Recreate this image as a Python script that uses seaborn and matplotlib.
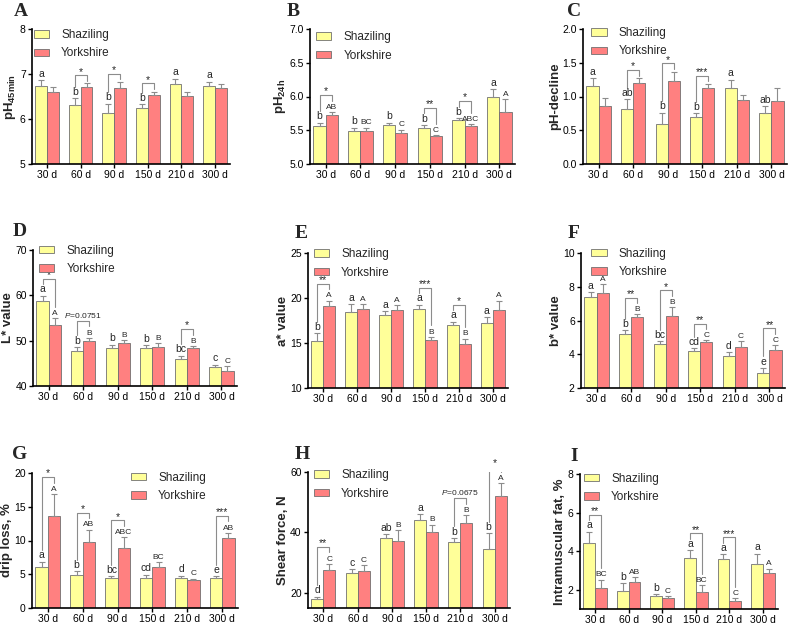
import pandas as pd
import seaborn as sns
import matplotlib.pyplot as plt

sns.set_style('ticks')
plt.rcParams['font.family'] = ['Liberation Sans', 'DejaVu Sans']
plt.rcParams['mathtext.fontset'] = 'custom'
plt.rcParams['mathtext.rm'] = 'Liberation Sans'
plt.rcParams['mathtext.bf'] = 'Liberation Sans:bold'
plt.rcParams['mathtext.it'] = 'Liberation Sans:italic'

days = ['30 d', '60 d', '90 d', '150 d', '210 d', '300 d']
breeds = ['Shaziling', 'Yorkshire']
colors = ['#FFFF99', '#FF8080']

# A pH45min
ph45_s = [6.74, 6.31, 6.14, 6.25, 6.77, 6.74]
ph45_s_sem = [0.12, 0.15, 0.20, 0.08, 0.13, 0.09]
ph45_y = [6.61, 6.71, 6.70, 6.53, 6.51, 6.70]
ph45_y_sem = [0.10, 0.08, 0.13, 0.08, 0.08, 0.07]
ph45_s_let = ['a', 'b', 'b', 'b', 'a', 'a']
ph45_y_let = ['', '', '', '', '', '']
ph45_sig = [(1, '*'), (2, '*'), (3, '*')]

# B pH24h
ph24_s = [5.57, 5.49, 5.58, 5.54, 5.65, 5.99]
ph24_s_sem = [0.04, 0.05, 0.03, 0.04, 0.03, 0.12]
ph24_y = [5.72, 5.49, 5.46, 5.41, 5.56, 5.77]
ph24_y_sem = [0.05, 0.05, 0.05, 0.02, 0.03, 0.19]
ph24_s_let = ['b', 'b', 'b', 'b', 'b', 'a']
ph24_y_let = ['AB', 'BC', 'C', 'C', 'ABC', 'A']
ph24_sig = [(0, '*'), (3, '**'), (4, '*')]

# C pH-decline
phd_s = [1.15, 0.81, 0.59, 0.69, 1.12, 0.76]
phd_s_sem = [0.12, 0.15, 0.17, 0.06, 0.13, 0.10]
phd_y = [0.86, 1.20, 1.23, 1.12, 0.95, 0.93]
phd_y_sem = [0.12, 0.07, 0.14, 0.07, 0.07, 0.19]
phd_s_let = ['a', 'ab', 'b', 'b', 'a', 'ab']
phd_y_let = ['', '', '', '', '', '']
phd_sig = [(1, '*'), (2, '*'), (3, '***')]

# D L*
l_s = [58.8, 47.8, 48.3, 48.3, 46.0, 44.2]
l_s_sem = [1.1, 0.8, 0.8, 0.7, 0.7, 0.5]
l_y = [53.4, 49.9, 49.4, 48.5, 48.3, 43.3]
l_y_sem = [1.5, 0.7, 0.7, 1.0, 0.5, 1.1]
l_s_let = ['a', 'b', 'b', 'b', 'bc', 'c']
l_y_let = ['A', 'B', 'B', 'B', 'B', 'C']
l_sig = [(0, '*'), (1, 'P=0.0751'), (4, '*')]

# E a*
a_s = [15.26, 18.48, 18.07, 18.8, 17.0, 17.26]
a_s_sem = [0.8, 0.8, 0.45, 0.45, 0.35, 0.6]
a_y = [19.07, 18.81, 18.7, 15.33, 14.9, 18.7]
a_y_sem = [0.65, 0.5, 0.5, 0.35, 0.6, 1.0]
a_s_let = ['b', 'a', 'a', 'a', 'a', 'a']
a_y_let = ['A', 'A', 'A', 'B', 'B', 'A']
a_sig = [(0, '**'), (3, '***'), (4, '*')]

# F b*
b_s = [7.37, 5.18, 4.6, 4.17, 3.88, 2.91]
b_s_sem = [0.32, 0.23, 0.16, 0.2, 0.25, 0.28]
b_y = [7.65, 6.23, 6.29, 4.72, 4.43, 4.27]
b_y_sem = [0.5, 0.13, 0.49, 0.1, 0.33, 0.26]
b_s_let = ['a', 'b', 'bc', 'cd', 'd', 'e']
b_y_let = ['A', 'B', 'B', 'C', 'C', 'C']
b_sig = [(1, '**'), (2, '*'), (3, '**'), (5, '**')]

# G drip loss
drip_s = [6.07, 4.84, 4.49, 4.5, 4.4, 4.44]
drip_s_sem = [0.8, 0.6, 0.25, 0.45, 0.4, 0.3]
drip_y = [13.68, 9.83, 8.89, 6.07, 4.1, 10.32]
drip_y_sem = [3.2, 1.75, 1.6, 0.7, 0.25, 0.8]
drip_s_let = ['a', 'b', 'bc', 'cd', 'd', 'e']
drip_y_let = ['A', 'AB', 'ABC', 'BC', 'C', 'AB']
drip_sig = [(0, '*'), (1, '*'), (2, '*'), (5, '***')]

# H shear force
sf_s = [17.9, 26.5, 38.3, 44.2, 36.7, 34.4]
sf_s_sem = [0.8, 1.3, 1.2, 1.8, 1.5, 5.3]
sf_y = [27.6, 27.2, 37.2, 40.1, 43.0, 52.1]
sf_y_sem = [2.0, 1.9, 3.6, 2.5, 2.7, 4.1]
sf_s_let = ['d', 'c', 'ab', 'a', 'b', 'b']
sf_y_let = ['C', 'C', 'B', 'B', 'B', 'A']
sf_sig = [(0, '**'), (4, 'P=0.0675'), (5, '*')]

# I intramuscular fat
imf_s = [4.43, 1.92, 1.66, 3.67, 3.57, 3.34]
imf_s_sem = [0.58, 0.43, 0.12, 0.38, 0.27, 0.52]
imf_y = [2.09, 2.38, 1.57, 1.87, 1.40, 2.86]
imf_y_sem = [0.43, 0.26, 0.09, 0.37, 0.17, 0.24]
imf_s_let = ['a', 'b', 'b', 'a', 'a', 'a']
imf_y_let = ['BC', 'AB', 'C', 'BC', 'C', 'A']
imf_sig = [(0, '**'), (3, '**'), (4, '***')]

panels = [
    ('A', r'$\mathbf{pH_{45min}}$', ph45_s, ph45_s_sem, ph45_y, ph45_y_sem, ph45_s_let, ph45_y_let, ph45_sig,
     (5, 8), [5, 6, 7, 8], '{:.0f}'),
    ('B', r'$\mathbf{pH_{24h}}$', ph24_s, ph24_s_sem, ph24_y, ph24_y_sem, ph24_s_let, ph24_y_let, ph24_sig,
     (5, 7), [5.0, 5.5, 6.0, 6.5, 7.0], '{:.1f}'),
    ('C', 'pH-decline', phd_s, phd_s_sem, phd_y, phd_y_sem, phd_s_let, phd_y_let, phd_sig,
     (0, 2), [0.0, 0.5, 1.0, 1.5, 2.0], '{:.1f}'),
    ('D', 'L* value', l_s, l_s_sem, l_y, l_y_sem, l_s_let, l_y_let, l_sig,
     (40, 70), [40, 50, 60, 70], '{:.0f}'),
    ('E', 'a* value', a_s, a_s_sem, a_y, a_y_sem, a_s_let, a_y_let, a_sig,
     (10, 25), [10, 15, 20, 25], '{:.0f}'),
    ('F', 'b* value', b_s, b_s_sem, b_y, b_y_sem, b_s_let, b_y_let, b_sig,
     (2, 10), [2, 4, 6, 8, 10], '{:.0f}'),
    ('G', 'drip loss, %', drip_s, drip_s_sem, drip_y, drip_y_sem, drip_s_let, drip_y_let, drip_sig,
     (0, 20), [0, 5, 10, 15, 20], '{:.0f}'),
    ('H', 'Shear force, N', sf_s, sf_s_sem, sf_y, sf_y_sem, sf_s_let, sf_y_let, sf_sig,
     (15, 60), [20, 40, 60], '{:.0f}'),
    ('I', 'Intramuscular fat, %', imf_s, imf_s_sem, imf_y, imf_y_sem, imf_s_let, imf_y_let, imf_sig,
     (1, 8), [2, 4, 6, 8], '{:.0f}'),
]

# axes rectangles in pixels (left, top, right, bottom) and letter / legend placement
W, H = 789, 625
boxes = [(32, 29, 230, 164), (310, 29, 515, 164), (583, 29, 787, 164),
         (33, 250, 237, 386), (308, 253, 508, 388), (581, 253, 785, 388),
         (32, 473, 238, 608), (308, 472, 510, 608), (580, 474, 778, 609)]
letter_pos = [(14, 3), (287, 3), (567, 3), (13, 223), (295, 225), (568, 225),
              (12, 446), (295, 446), (570, 448)]
legend_anchor = [(0.01, 1.0), (0.03, 0.985), (0.04, 1.015), (0.03, 1.04), (0.03, 1.035), (0.05, 1.04),
                 (0.48, 1.01), (0.03, 1.02), (0.02, 1.01)]

fig = plt.figure(figsize=(W / 100, H / 100), dpi=100)
gray = '#8c8c8c'

for k, (letter, ylab, s, s_sem, y, y_sem, s_let, y_let, sig, ylim, yticks, fmt) in enumerate(panels):
    l, t, r, b = boxes[k]
    ax = fig.add_axes([l / W, 1 - b / H, (r - l) / W, (b - t) / H])
    df = pd.DataFrame({'day': days * 2, 'value': s + y,
                       'breed': [breeds[0]] * 6 + [breeds[1]] * 6})
    sns.barplot(data=df, x='day', y='value', hue='breed', hue_order=breeds, order=days,
                palette=colors, saturation=1, width=0.7, errorbar=None, edgecolor='#707070',
                linewidth=0.6, ax=ax)
    R = ylim[1] - ylim[0]
    xs_s = [p.get_x() + p.get_width() / 2 for p in ax.containers[0]]
    xs_y = [p.get_x() + p.get_width() / 2 for p in ax.containers[1]]
    ax.errorbar(xs_s, s, yerr=[[0] * 6, s_sem], fmt='none', ecolor=gray, elinewidth=0.8,
                capsize=2.5, capthick=0.8)
    ax.errorbar(xs_y, y, yerr=[[0] * 6, y_sem], fmt='none', ecolor=gray, elinewidth=0.8,
                capsize=2.5, capthick=0.8)
    for i in range(6):
        if s_let[i]:
            ax.text(xs_s[i], s[i] + s_sem[i] + 0.01 * R, s_let[i], ha='center', va='bottom',
                    fontsize=7.5)
        if y_let[i]:
            ax.text(xs_y[i], y[i] + y_sem[i] + 0.01 * R, y_let[i], ha='center', va='bottom',
                    fontsize=6)
    lab_h = 0.065 * R
    for i, txt in sig:
        sl = s[i] + s_sem[i] + (lab_h if s_let[i] else 0) + 0.02 * R
        yl = y[i] + y_sem[i] + (lab_h if y_let[i] else 0) + 0.02 * R
        top = max(sl, yl) + 0.04 * R
        ax.plot([xs_s[i], xs_s[i], xs_y[i], xs_y[i]], [sl, top, top, yl], color=gray, lw=0.8)
        if txt.startswith('P='):
            ax.text(i, top + 0.01 * R, r'$\it{P}$' + txt[1:], ha='center', va='bottom', fontsize=6)
        else:
            ax.text(i, top - 0.01 * R, txt, ha='center', va='bottom', fontsize=7.5)
    ax.set_xlim(-0.45, 5.45)
    ax.set_ylim(*ylim)
    ax.set_yticks(yticks)
    ax.set_yticklabels([fmt.format(v) for v in yticks])
    ax.set_xlabel('')
    ax.set_ylabel(ylab, fontsize=9.5, fontweight='bold', labelpad=1)
    ax.tick_params(axis='both', labelsize=7.5, length=3, width=1, pad=1.5, colors='black')
    for sp in ['left', 'bottom']:
        ax.spines[sp].set_linewidth(1.2)
        ax.spines[sp].set_color('black')
    sns.despine(ax=ax)
    handles, labels = ax.get_legend_handles_labels()
    ax.legend(handles, labels, loc='upper left', bbox_to_anchor=legend_anchor[k], frameon=False,
              fontsize=8.5, handlelength=1.3, handleheight=0.6, handletextpad=1.0,
              labelspacing=0.55, borderpad=0, borderaxespad=0)
    lx, ly = letter_pos[k]
    fig.text(lx / W, 1 - ly / H, letter, ha='left', va='top', fontsize=14, fontweight='bold',
             family='Liberation Serif')

fig.savefig('out.png', dpi=100)
